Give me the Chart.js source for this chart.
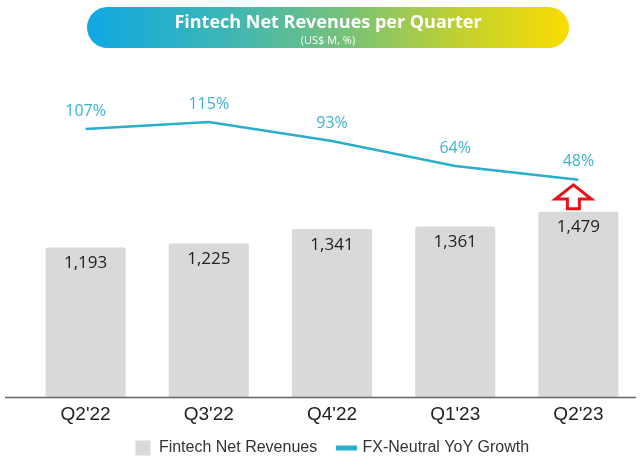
<!DOCTYPE html>
<html>
<head>
<meta charset="utf-8">
<script src="https://cdn.jsdelivr.net/npm/chart.js@4.4.1/dist/chart.umd.min.js"></script>
<style>
    html, body { margin: 0; padding: 0; background: #fff; }
    .wrap { position: relative; width: 640px; height: 466px; }
    .banner {
        position: absolute; left: 87px; top: 7px; width: 482px; height: 41px;
        border-radius: 21px;
        background: linear-gradient(90deg, #10a8e3 0%, #3fb6b4 30%, #7cc275 55%, #c2d12e 78%, #fadc04 100%);
        color: #fff; text-align: center; font-family: "Open Sans", sans-serif;
    }
    .banner .t { font-weight: 700; font-size: 18px; line-height: 20px; padding-top: 4px; }
    .banner .s { font-size: 11px; line-height: 13px; padding-top: 2px; }
</style>
</head>
<body>
<div class="wrap">
    <canvas id="chart" width="640" height="466"></canvas>
    <div class="banner">
        <div class="t">Fintech Net Revenues per Quarter</div>
        <div class="s">(US$ M, %)</div>
    </div>
</div>
<script>
const quarters = ["Q2'22", "Q3'22", "Q4'22", "Q1'23", "Q2'23"];
const revenues = [1193, 1225, 1341, 1361, 1479];
const growth = [107, 115, 93, 64, 48];

const barColor = "#d9d9d9";
const lineColor = "#2aaecb";
const labelColor = "#3ab4cf";

// labels above points and inside bars, plus the red arrow on the last quarter
const valueLabels = {
    id: "valueLabels",
    afterDatasetsDraw(chart) {
        const ctx = chart.ctx;
        const bars = chart.getDatasetMeta(0).data;
        const points = chart.getDatasetMeta(1).data;
        ctx.save();
        ctx.textAlign = "center";
        ctx.textBaseline = "middle";

        ctx.font = "17px 'Open Sans', sans-serif";
        ctx.fillStyle = "#222";
        bars.forEach((bar, i) => {
            ctx.fillText(revenues[i].toLocaleString("en-US"), bar.x, bar.y + 16);
        });

        ctx.font = "16px 'Open Sans', sans-serif";
        ctx.fillStyle = labelColor;
        points.forEach((pt, i) => {
            ctx.fillText(growth[i] + "%", pt.x, pt.y - 18);
        });

        // up arrow between the last point and the last bar
        const last = bars.length - 1;
        const cx = bars[last].x - 5;
        const top = points[last].y + 5;
        const bottom = bars[last].y - 3;
        const headH = (bottom - top) * 0.6, headW = 18, shaftW = 6;
        ctx.beginPath();
        ctx.moveTo(cx, top);
        ctx.lineTo(cx + headW, top + headH);
        ctx.lineTo(cx + shaftW, top + headH);
        ctx.lineTo(cx + shaftW, bottom);
        ctx.lineTo(cx - shaftW, bottom);
        ctx.lineTo(cx - shaftW, top + headH);
        ctx.lineTo(cx - headW, top + headH);
        ctx.closePath();
        ctx.fillStyle = "#fff";
        ctx.fill();
        ctx.lineWidth = 3;
        ctx.lineJoin = "miter";
        ctx.strokeStyle = "#e8121b";
        ctx.stroke();

        // baseline
        const area = chart.chartArea;
        ctx.beginPath();
        ctx.moveTo(5, area.bottom + 0.5);
        ctx.lineTo(636, area.bottom + 0.5);
        ctx.lineWidth = 1.5;
        ctx.strokeStyle = "#666";
        ctx.stroke();
        ctx.restore();
    }
};

new Chart(document.getElementById("chart"), {
    data: {
        labels: quarters,
        datasets: [
            {
                type: "bar",
                label: "Fintech Net Revenues",
                data: revenues,
                backgroundColor: barColor,
                borderRadius: 2,
                borderSkipped: "bottom",
                barPercentage: 0.65,
                categoryPercentage: 1,
                yAxisID: "y",
                order: 2
            },
            {
                type: "line",
                label: "FX-Neutral YoY Growth",
                data: growth,
                borderColor: lineColor,
                backgroundColor: lineColor,
                borderWidth: 2.5,
                pointRadius: 0,
                tension: 0,
                yAxisID: "y1",
                order: 1
            }
        ]
    },
    options: {
        responsive: false,
        animation: false,
        layout: { padding: { top: 60, left: 24, right: 0, bottom: 0 } },
        plugins: {
            title: { display: false },
            tooltip: { enabled: false },
            legend: {
                position: "bottom",
                labels: {
                    usePointStyle: true,
                    boxHeight: 15,
                    padding: 8,
                    color: "#333",
                    font: { family: "'Liberation Sans', Arial, sans-serif", size: 16 },
                    generateLabels(chart) {
                        const sets = chart.data.datasets;
                        return sets.map((ds, i) => ({
                            // trailing spaces widen the gap between the two entries
                            text: ds.label + (i < sets.length - 1 ? "\u00a0\u00a0\u00a0" : ""),
                            datasetIndex: i,
                            fillStyle: ds.type === "bar" ? barColor : lineColor,
                            strokeStyle: ds.type === "bar" ? barColor : lineColor,
                            lineWidth: ds.type === "bar" ? 0 : 5,
                            pointStyle: ds.type === "bar" ? "rect" : "line",
                            fontColor: "#333"
                        }));
                    }
                }
            }
        },
        scales: {
            x: {
                grid: { display: false, drawTicks: false },
                border: { display: false },
                ticks: {
                    color: "#222",
                    padding: 8,
                    font: { family: "'Liberation Sans', Arial, sans-serif", size: 19, lineHeight: 1 }
                }
            },
            y: {
                display: false,
                min: 0,
                max: 2689
            },
            y1: {
                display: false,
                min: -204,
                max: 187
            }
        }
    },
    plugins: [valueLabels]
});
</script>
</body>
</html>
